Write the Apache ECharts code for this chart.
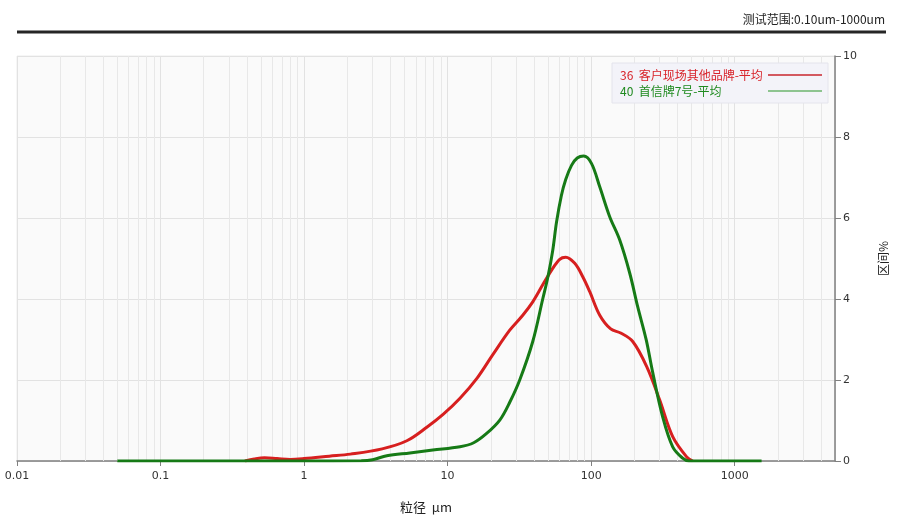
<!DOCTYPE html>
<html>
<head>
<meta charset="utf-8">
<script src="https://cdn.jsdelivr.net/npm/echarts@6/dist/echarts.min.js"></script>
<style>
  html, body { margin: 0; padding: 0; background: #fff; }
  #chart { width: 900px; height: 520px; }
</style>
</head>
<body>
<div id="chart"></div>
<script>
// particle size (um) / interval %
var redName = '36  客户现场其他品牌-平均';
var redSize = [0.387, 0.45, 0.53, 0.65, 0.8, 1.0, 1.5, 2.1, 3.5, 5.2, 7.2, 9.3, 12.2, 16, 20.6, 27.1, 33.4, 39.2, 46, 53.2, 60.4, 66.5, 76.9, 87.4, 97.8, 114.8, 136.9, 160.7, 194.9, 243.9, 300, 370, 463, 510];
var redVal  = [0, 0.05, 0.08, 0.06, 0.04, 0.06, 0.12, 0.17, 0.3, 0.5, 0.84, 1.15, 1.55, 2.04, 2.62, 3.23, 3.6, 3.93, 4.35, 4.72, 4.98, 5.03, 4.88, 4.55, 4.18, 3.6, 3.26, 3.16, 2.95, 2.33, 1.51, 0.6, 0.1, 0];

var greenName = '40  首信牌7号-平均';
var greenSize = [0.05, 1.0, 2.5, 3.0, 3.77, 5.46, 7.89, 12.2, 15.2, 18.7, 23.1, 27.1, 31.8, 39.2, 46, 50, 54, 57.4, 62, 66.5, 73, 80, 88.7, 100.5, 114.8, 134.7, 158, 186, 211, 242, 268, 315, 370, 434, 480, 1540];
var greenVal  = [0, 0, 0.005, 0.03, 0.13, 0.2, 0.27, 0.35, 0.45, 0.68, 1.01, 1.45, 2.0, 2.95, 4.0, 4.55, 5.2, 5.9, 6.55, 6.95, 7.3, 7.48, 7.53, 7.35, 6.77, 6.03, 5.46, 4.63, 3.81, 2.99, 2.2, 1.09, 0.35, 0.07, 0, 0];

var yTicks = [0, 2, 4, 6, 8, 10];
var decades = [0.01, 0.1, 1, 10, 100, 1000];

function pairs(xs, ys) {
    var out = [];
    for (var i = 0; i < xs.length; i++) out.push([xs[i], ys[i]]);
    return out;
}

// minor vertical grid lines at 2..9 of every decade
var minorLines = [];
decades.forEach(function (d) {
    for (var k = 2; k <= 9; k++) {
        var v = +(d * k).toPrecision(6);
        if (v < 5000) minorLines.push({ xAxis: v });
    }
});

var chart = echarts.init(document.getElementById('chart'));
var baseFont = 'DejaVu Sans, Noto Sans CJK SC, sans-serif';
var cjkFont = 'Noto Sans CJK SC, sans-serif';
var option = {
    animation: false,
    textStyle: { fontFamily: baseFont },
    title: {
        text: '测试范围:0.10um-1000um',
        right: 10,
        top: 8,
        textStyle: { fontSize: 12, fontWeight: 'normal', color: '#222', fontFamily: cjkFont }
    },
    graphic: [{
        type: 'line',
        shape: { x1: 17, y1: 32, x2: 886, y2: 32 },
        style: { stroke: '#262626', lineWidth: 3 }
    }],
    legend: {
        orient: 'vertical',
        left: 612,
        top: 63,
        align: 'right',
        padding: [6, 6, 6, 8],
        itemGap: 4,
        itemWidth: 54,
        itemHeight: 1.5,
        icon: 'rect',
        backgroundColor: '#f3f3f9',
        borderColor: '#e4e4ec',
        borderWidth: 1,
        formatter: function (name) {
            return (name === redName ? '{r|' : '{g|') + name + '}';
        },
        textStyle: {
            fontSize: 12,
            fontFamily: cjkFont,
            rich: {
                r: { color: '#d8232a', width: 143, height: 13, align: 'left', fontSize: 12, fontFamily: cjkFont },
                g: { color: '#1f8a1f', width: 143, height: 13, align: 'left', fontSize: 12, fontFamily: cjkFont }
            }
        },
        data: [
            { name: redName, itemStyle: { color: '#c8262c' } },
            { name: greenName, itemStyle: { color: '#6cb46c' } }
        ]
    },
    grid: {
        left: 17,
        right: 65,
        top: 56,
        bottom: 59,
        show: true,
        backgroundColor: '#fafafa',
        borderColor: '#ececec',
        borderWidth: 1
    },
    xAxis: {
        type: 'log',
        logBase: 10,
        min: 0.01,
        max: 5000,
        name: '粒径  μm',
        nameLocation: 'middle',
        nameGap: 40,
        nameTextStyle: { fontSize: 13, color: '#222', fontFamily: cjkFont },
        axisLine: { show: true, lineStyle: { color: '#808080', width: 1.5 } },
        axisTick: { show: true, length: 5, lineStyle: { color: '#808080' } },
        axisLabel: {
            color: '#333',
            fontSize: 11,
            margin: 10,
            showMaxLabel: false,
            formatter: function (v) { return String(+(+v).toPrecision(6)); }
        },
        splitLine: { show: true, lineStyle: { color: '#e2e2e2', width: 1 } }
    },
    yAxis: {
        type: 'value',
        position: 'right',
        min: 0,
        max: 10,
        interval: 2,
        name: '区间%',
        nameLocation: 'middle',
        nameGap: 42,
        nameRotate: 90,
        nameTextStyle: { fontSize: 12, color: '#222', fontFamily: cjkFont },
        axisLine: { show: true, lineStyle: { color: '#808080', width: 1.5 } },
        axisTick: { show: true, inside: false, length: 6, lineStyle: { color: '#808080' } },
        axisLabel: {
            color: '#333',
            fontSize: 11,
            margin: 8,
            formatter: function (v) { return yTicks.indexOf(v) >= 0 ? String(v) : ''; }
        },
        splitLine: { show: true, lineStyle: { color: '#e2e2e2', width: 1 } }
    },
    series: [
        {
            name: 'minor-grid',
            type: 'line',
            data: [],
            silent: true,
            z: 1,
            markLine: {
                silent: true,
                z: 1,
                symbol: 'none',
                label: { show: false },
                lineStyle: { color: '#e8e8e8', width: 1, type: 'solid' },
                emphasis: { disabled: true },
                data: minorLines
            }
        },
        {
            name: redName,
            type: 'line',
            data: pairs(redSize, redVal),
            smooth: 0.35,
            showSymbol: false,
            z: 10,
            lineStyle: { color: '#d71f1f', width: 3 },
            itemStyle: { color: '#c8262c' }
        },
        {
            name: greenName,
            type: 'line',
            data: pairs(greenSize, greenVal),
            smooth: 0.35,
            showSymbol: false,
            z: 11,
            lineStyle: { color: '#167a16', width: 3 },
            itemStyle: { color: '#6cb46c' }
        }
    ]
};
chart.setOption(option);
</script>
</body>
</html>
